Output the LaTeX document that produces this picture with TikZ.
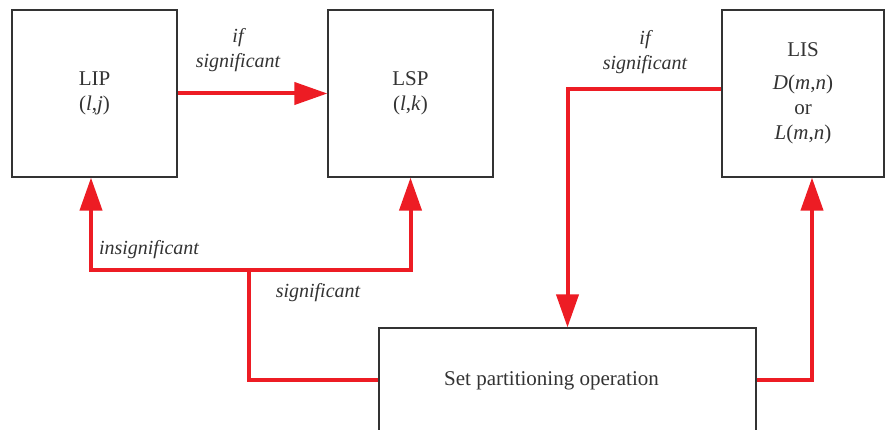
\documentclass[tikz,border=0pt]{standalone}
\usepackage{fontspec}
\setmainfont{Liberation Serif}
\usetikzlibrary{arrows.meta}
\definecolor{lred}{RGB}{237,28,36}
\definecolor{ink}{RGB}{51,51,51}
\tikzset{
  box/.style={draw=ink, line width=1.2pt, fill=white, inner sep=0pt, text=ink,
              font=\fontsize{21}{25}\selectfont, align=center},
  redline/.style={draw=lred, line width=4pt},
  arr/.style={redline, -{Triangle[length=33pt,width=22pt]}},
  lab/.style={text=ink, font=\fontsize{20}{25}\selectfont\itshape, align=center, inner sep=0pt}
}
\begin{document}
\begin{tikzpicture}[x=1pt,y=-1pt]
\useasboundingbox (0,0) rectangle (885,430);
\clip (0,0) rectangle (885,430);
\node[box, minimum width=165pt, minimum height=167pt] (LIP) at (94.5,93.5) {LIP\\(\textit{l},\textit{j})};
\node[box, minimum width=165pt, minimum height=167pt] (LSP) at (410.5,93.5) {LSP\\(\textit{l},\textit{k})};
\node[box, minimum width=162pt, minimum height=167pt] (LIS) at (803,93.5) {\raisebox{2pt}{LIS}\\[6pt]\textit{D}(\textit{m},\textit{n})\\or\\\textit{L}(\textit{m},\textit{n})};
\node[box, minimum width=377pt, minimum height=104pt,
      label={[text=ink,font=\fontsize{21}{25}\selectfont,xshift=-16pt,yshift=-1pt]center:Set partitioning operation}] (SET) at (567.5,380) {};
\coordinate (jn) at (249,270);
\draw[arr] (LIP.east) -- (LSP.west);
\draw[arr] (SET.west) -| (jn) -| ([xshift=-3.5pt]LIP.south);
\draw[arr] (jn) -| (LSP.south);
\draw[arr] ([yshift=4.5pt]LIS.west) -| (SET.north);
\draw[arr] (SET.east) -| ([xshift=9pt]LIS.south);
\node[lab] (l1) at (238,50) {if\\significant};
\node[lab] (l2) at (645,52) {if\\significant};
\node[lab] (l3) at (149,250) {insignificant};
\node[lab] (l4) at (318,293) {significant};
\end{tikzpicture}
\end{document}
